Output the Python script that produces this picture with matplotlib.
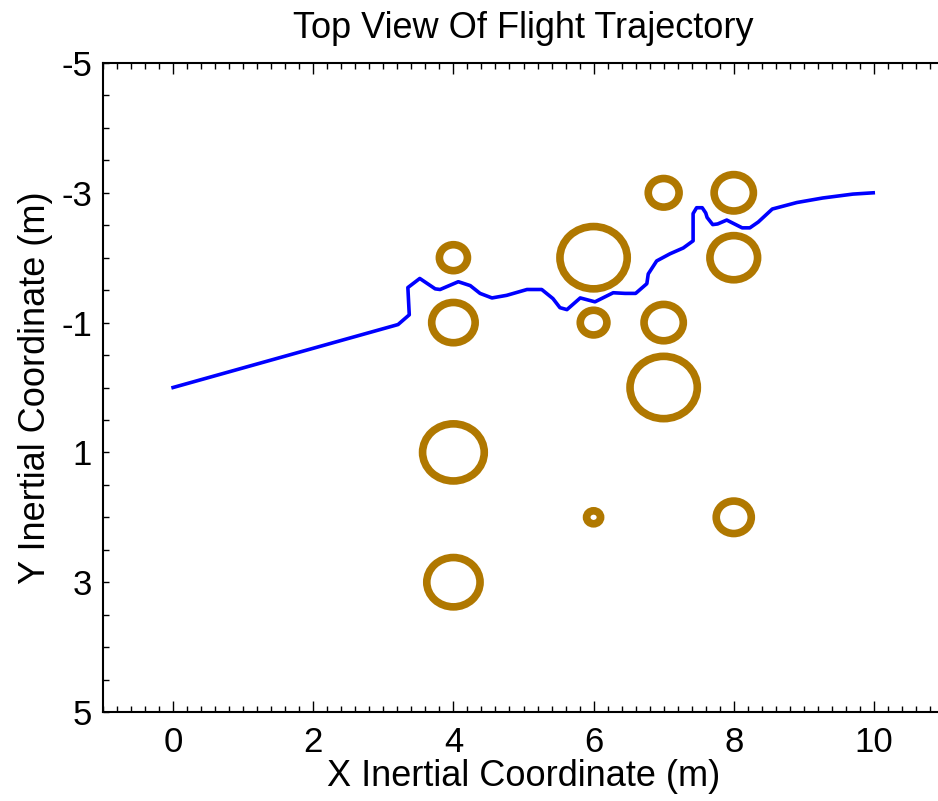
import matplotlib
matplotlib.use("Agg")
import matplotlib.pyplot as plt
from matplotlib.patches import Circle
from matplotlib.ticker import MultipleLocator

plt.rcParams['font.family'] = ['Liberation Sans', 'DejaVu Sans']
plt.rcParams['axes.unicode_minus'] = False

# obstacles (center x, center y, radius)
obs_x = [4, 4, 4, 4, 6, 6, 6, 7, 7, 7, 8, 8, 8]
obs_y = [-2, -1, 1, 3, -2, -1, 2, -3, -1, 0, -3, -2, 2]
obs_r = [0.2, 0.31, 0.44, 0.38, 0.48, 0.19, 0.1, 0.22, 0.28, 0.48, 0.28, 0.34, 0.25]

# flight path
path_x = [0.0, 3.21, 3.37, 3.35, 3.52, 3.74, 3.81, 4.07, 4.24, 4.38, 4.55, 4.76,
          5.05, 5.26, 5.42, 5.52, 5.62, 5.81, 6.02, 6.28, 6.45, 6.60, 6.76, 6.78,
          6.90, 7.09, 7.28, 7.42, 7.42, 7.42, 7.47, 7.55, 7.60, 7.62, 7.70, 7.77,
          7.90, 8.12, 8.23, 8.35, 8.55, 8.90, 9.27, 9.70, 9.99]
path_y = [0.0, -0.97, -1.12, -1.54, -1.68, -1.52, -1.51, -1.63, -1.57, -1.45,
          -1.38, -1.42, -1.51, -1.51, -1.37, -1.23, -1.20, -1.38, -1.32, -1.46,
          -1.45, -1.45, -1.60, -1.75, -1.95, -2.06, -2.15, -2.26, -2.46, -2.68,
          -2.77, -2.77, -2.69, -2.62, -2.51, -2.52, -2.58, -2.46, -2.46, -2.55,
          -2.75, -2.85, -2.92, -2.98, -3.00]

fig = plt.figure(figsize=(9.38, 8.01), dpi=100)
ax = fig.add_axes([103 / 938, 89 / 801, 841 / 938, 649 / 801])

for cx, cy, r in zip(obs_x, obs_y, obs_r):
    ax.add_patch(Circle((cx, cy), r, fill=False, edgecolor='#b07800', linewidth=5.5))

ax.plot(path_x, path_y, color='#0000ff', linewidth=2.6)

ax.set_xlim(-1, 11)
ax.set_ylim(5, -5)
ax.set_xticks([0, 2, 4, 6, 8, 10])
ax.set_yticks([-5, -3, -1, 1, 3, 5])
ax.xaxis.set_minor_locator(MultipleLocator(0.2))
ax.yaxis.set_minor_locator(MultipleLocator(0.5))
ax.tick_params(axis='x', which='both', direction='in', top=True, bottom=True,
               labelsize=25, pad=10)
ax.tick_params(axis='x', which='major', length=8, width=1)
ax.tick_params(axis='x', which='minor', length=4, width=1)
ax.tick_params(axis='y', which='both', direction='in', left=True, right=False,
               length=4, width=1, labelsize=25, pad=8)
ax.spines['right'].set_visible(False)
for s in ['left', 'top', 'bottom']:
    ax.spines[s].set_linewidth(1.5)

ax.set_title('Top View Of Flight Trajectory', fontsize=26, pad=18)
ax.set_xlabel('X Inertial Coordinate (m)', fontsize=26, labelpad=0)
ax.set_ylabel('Y Inertial Coordinate (m)', fontsize=26, labelpad=6)

fig.savefig('out.png', dpi=100)
